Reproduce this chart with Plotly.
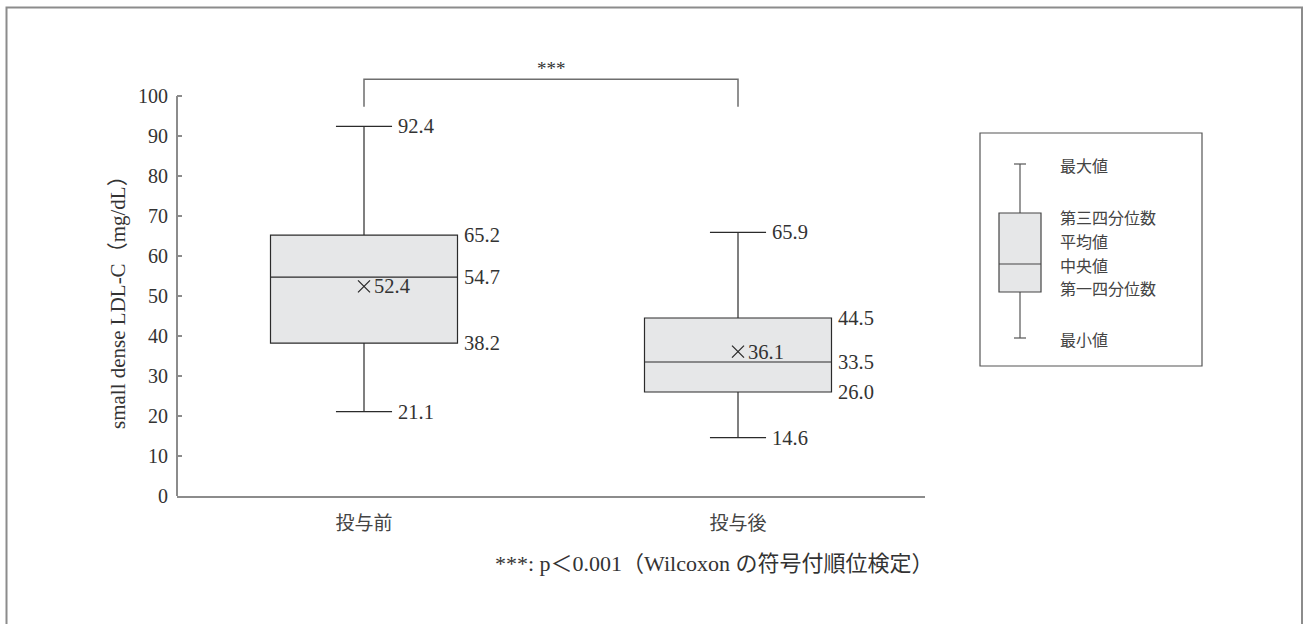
import plotly.graph_objects as go

# ---- data -------------------------------------------------------------
categories = ["投与前", "投与後"]
maximum = [92.4, 65.9]
q3 = [65.2, 44.5]
median = [54.7, 33.5]
q1 = [38.2, 26.0]
minimum = [21.1, 14.6]
mean = [52.4, 36.1]
y_ticks = list(range(0, 101, 10))

legend_labels = ["最大値", "第三四分位数", "平均値", "中央値", "第一四分位数", "最小値"]
footnote = "***: p＜0.001（Wilcoxon の符号付順位検定）"
y_title = "small dense LDL-C（mg/dL）"

# ---- layout geometry (pixels) ----------------------------------------
W, H = 1303, 624
L, R, T, B = 177, 925, 48, 496          # plot area edges
Y_MAX = (B - T) / 4.0                     # 4 px per unit -> 112

def fx(px):
    return (px - L) / (R - L)

def fy(py):
    return (B - py) / (B - T)

SERIF = "Liberation Serif, 'Noto Sans CJK JP', serif"
CJK = "'Noto Sans CJK JP', sans-serif"
BOX_FILL = "#e6e7e8"
BOX_LINE = "#2b2b2b"
AXIS = "#8c8c8c"
TXT = "#333333"

fig = go.Figure()

# ---- boxes -----------------------------------------------------------
for i, c in enumerate(categories):
    fig.add_trace(go.Box(
        x=[c], q1=[q1[i]], median=[median[i]], q3=[q3[i]],
        lowerfence=[minimum[i]], upperfence=[maximum[i]],
        boxpoints=False, width=0.5, whiskerwidth=0.3,
        fillcolor=BOX_FILL, line=dict(color=BOX_LINE, width=1.2),
        showlegend=False, hoverinfo="skip",
    ))

# mean markers
fig.add_trace(go.Scatter(
    x=categories, y=mean, mode="markers",
    marker=dict(symbol="x-thin-open", size=12, color=BOX_LINE,
                line=dict(color=BOX_LINE, width=1.3)),
    showlegend=False, hoverinfo="skip",
))

annotations = []

def num_label(x, y, text, xshift):
    annotations.append(dict(
        x=x, y=y, xref="x", yref="y", text=text, showarrow=False,
        xanchor="left", yanchor="middle", xshift=xshift,
        font=dict(family=SERIF, size=20.5, color=TXT),
    ))

for i, c in enumerate(categories):
    # whisker caps: label just past the cap end
    num_label(i + 0.075, maximum[i], f"{maximum[i]:.1f}", 4)
    num_label(i + 0.075, minimum[i], f"{minimum[i]:.1f}", 4)
    # box edges and median: label just past the box
    num_label(i + 0.25, q3[i], f"{q3[i]:.1f}", 4)
    num_label(i + 0.25, median[i], f"{median[i]:.1f}", 4)
    num_label(i + 0.25, q1[i], f"{q1[i]:.1f}", 4)
    # mean value next to the cross
    num_label(i, mean[i], f"{mean[i]:.1f}", 8)

shapes = []

# y axis line (0 to 100 only)
shapes.append(dict(type="line", xref="paper", yref="y", x0=0, x1=0,
                   y0=0, y1=100, line=dict(color=AXIS, width=2)))

# significance bracket between the two groups
BR_LOW, BR_TOP = 97.3, 104.2
shapes.append(dict(type="path", xref="x", yref="y",
                   path=f"M 0,{BR_LOW} L 0,{BR_TOP} L 1,{BR_TOP} L 1,{BR_LOW}",
                   line=dict(color="#6e6e6e", width=1.5)))
annotations.append(dict(x=0.5, y=BR_TOP, xref="x", yref="y", text="***",
                        showarrow=False, xanchor="center", yanchor="middle",
                        yshift=11,
                        font=dict(family=SERIF, size=19, color=TXT)))

# y axis title
annotations.append(dict(x=fx(118), y=fy(297), xref="paper", yref="paper",
                        text=y_title, textangle=-90, showarrow=False,
                        xanchor="center", yanchor="middle",
                        font=dict(family=SERIF, size=21, color=TXT)))

# footnote
annotations.append(dict(x=fx(714), y=fy(563), xref="paper", yref="paper",
                        text=footnote, showarrow=False,
                        xanchor="center", yanchor="middle",
                        font=dict(family=SERIF, size=22, color=TXT)))

# ---- key box explaining the box-plot parts ---------------------------
shapes.append(dict(type="rect", xref="paper", yref="paper",
                   x0=fx(980), x1=fx(1202), y0=fy(133), y1=fy(366),
                   line=dict(color="#555555", width=1.2)))
KX = 1020
shapes.append(dict(type="line", xref="paper", yref="paper",
                   x0=fx(KX), x1=fx(KX), y0=fy(164), y1=fy(338),
                   line=dict(color="#555555", width=1.2)))
for cy in (164, 338):
    shapes.append(dict(type="line", xref="paper", yref="paper",
                       x0=fx(KX - 6), x1=fx(KX + 6), y0=fy(cy), y1=fy(cy),
                       line=dict(color="#555555", width=1.2)))
shapes.append(dict(type="rect", xref="paper", yref="paper",
                   x0=fx(999), x1=fx(1041), y0=fy(213), y1=fy(292),
                   fillcolor=BOX_FILL, line=dict(color="#444444", width=1.2)))
shapes.append(dict(type="line", xref="paper", yref="paper",
                   x0=fx(999), x1=fx(1041), y0=fy(264), y1=fy(264),
                   line=dict(color="#444444", width=1.2)))
fig.add_trace(go.Scatter(
    x=[fx(KX)], y=[fy(237)], xaxis="x2", yaxis="y2", mode="markers",
    marker=dict(symbol="x-thin-open", size=9, color="#555555",
                line=dict(color="#555555", width=1)),
    showlegend=False, hoverinfo="skip",
))
KEY_FONT = dict(family=CJK, size=16, color="#444444")
for text, ty in zip(legend_labels, [165, 217, 241, 264.5, 288, 339]):
    annotations.append(dict(x=fx(1059), y=fy(ty), xref="paper", yref="paper",
                            text=text, showarrow=False, xanchor="left",
                            yanchor="middle", borderpad=0, font=KEY_FONT))

# outer frame
shapes.append(dict(type="rect", xref="paper", yref="paper",
                   x0=fx(6.5), x1=fx(1302), y0=fy(7.5), y1=fy(700),
                   line=dict(color="#8c8c8c", width=2)))

fig.update_layout(
    width=W, height=H,
    margin=dict(l=L, r=W - R, t=T, b=H - B, pad=0),
    paper_bgcolor="white", plot_bgcolor="white",
    showlegend=False,
    boxmode="overlay",
    shapes=shapes, annotations=annotations,
    xaxis=dict(type="category", categoryorder="array", categoryarray=categories,
               range=[-0.5, 1.5], showline=True, linecolor=AXIS, linewidth=2,
               showgrid=False, zeroline=False, ticks="",
               ticklabelstandoff=9,
               tickfont=dict(family=CJK, size=19, color="#444444")),
    yaxis=dict(range=[0, Y_MAX], tickvals=y_ticks, showline=False,
               showgrid=False, zeroline=False, ticks="inside", ticklen=5,
               tickcolor=AXIS, tickwidth=1.5, ticklabelstandoff=8,
               tickfont=dict(family=SERIF, size=20, color=TXT)),
    xaxis2=dict(domain=[0, 1], range=[0, 1], overlaying="x", visible=False),
    yaxis2=dict(domain=[0, 1], range=[0, 1], overlaying="y", visible=False),
)

fig.write_html("out.html")
